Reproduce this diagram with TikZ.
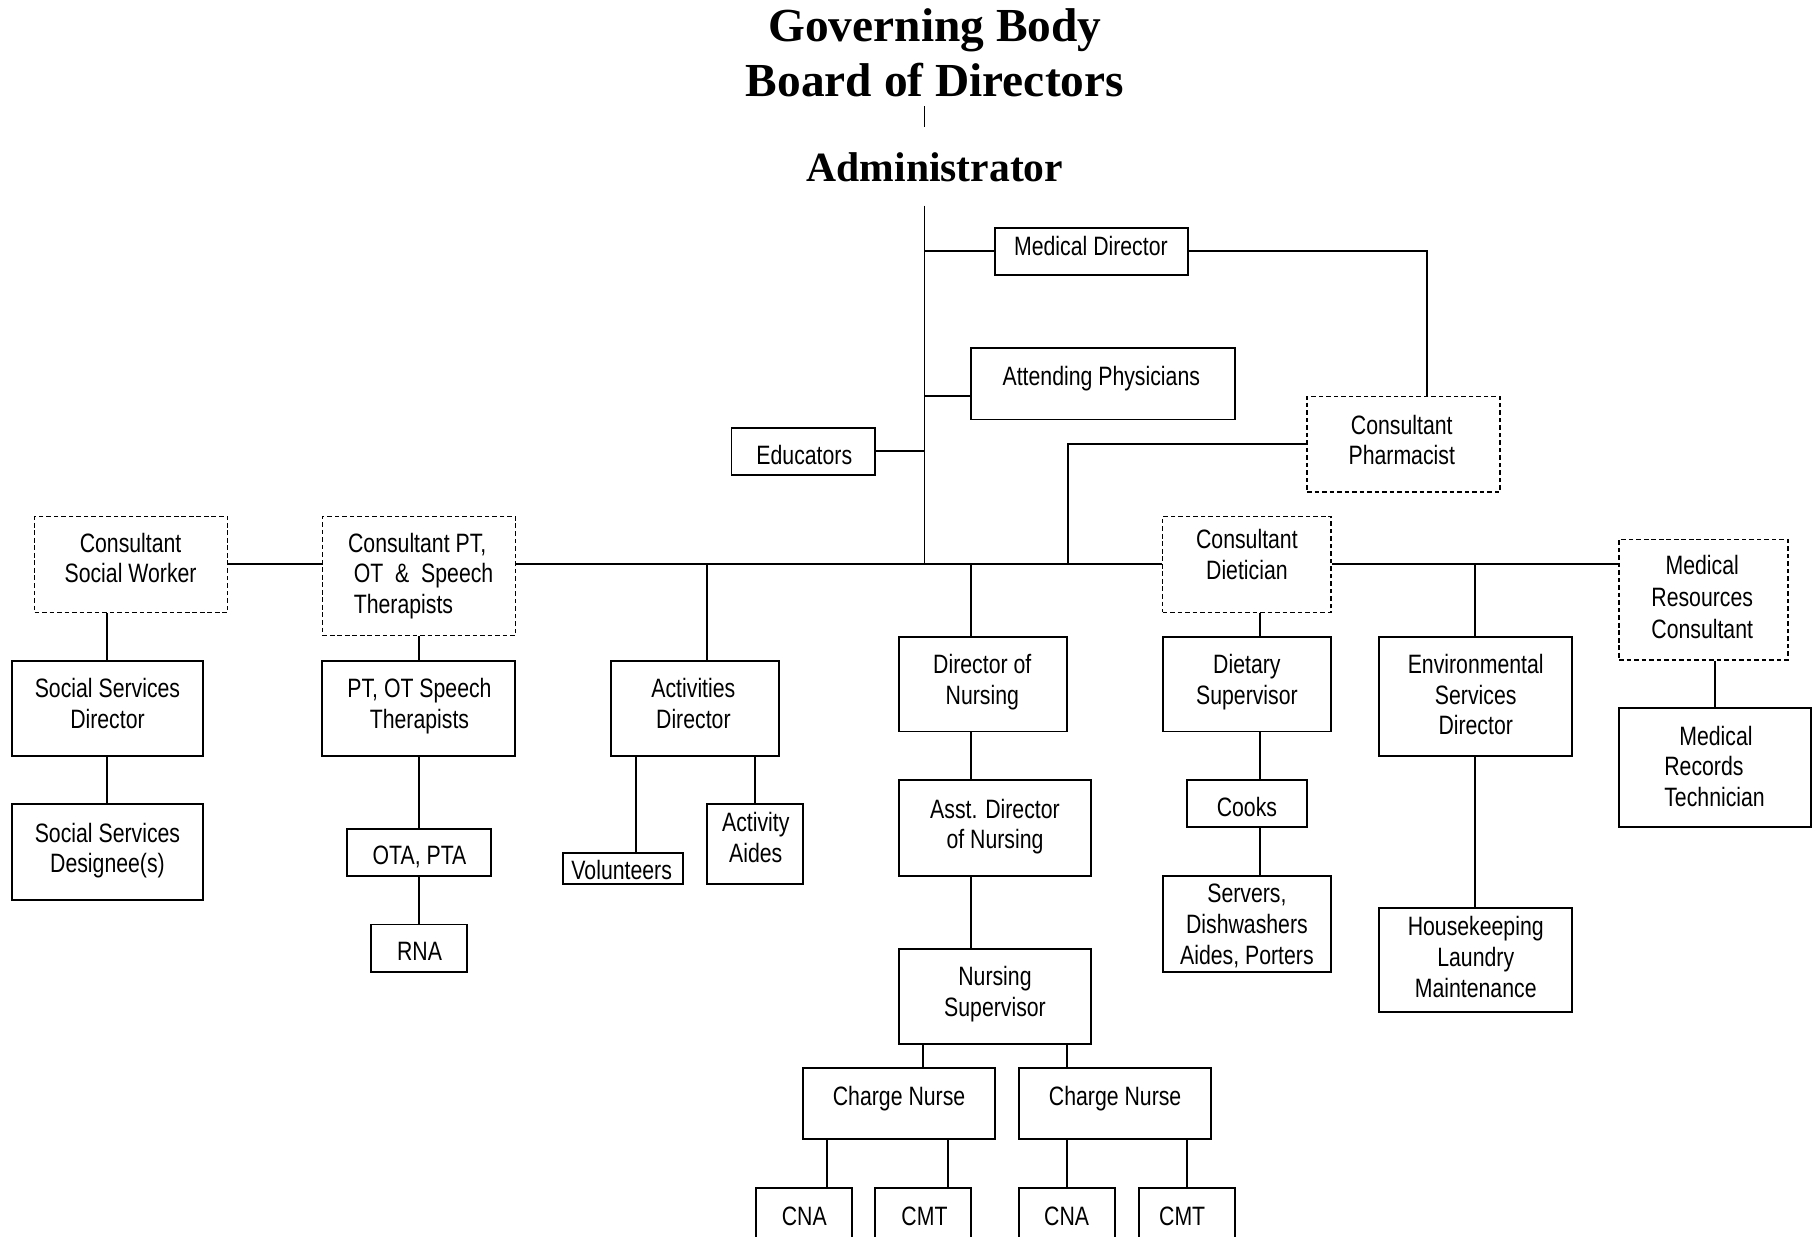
\documentclass[tikz,border=0pt]{standalone}
\usepackage{fontspec}
\setmainfont{Liberation Sans}[FakeStretch=0.8]
\newfontfamily\titlefont{Liberation Serif}
\usetikzlibrary{fit}
\begin{document}
\begin{tikzpicture}[x=1pt,y=-1pt,
  box/.style={draw, line width=1.7pt, inner sep=0pt},
  dbox/.style={box, line width=1.4pt, dash pattern=on 4pt off 2.5pt},
  txt/.style={font=\fontsize{23}{26.5}\selectfont, align=center, inner sep=0pt, anchor=north},
  ltxt/.style={txt, align=left, anchor=north west},
  conn/.style={line width=1.7pt},
  ttl/.style={font=\titlefont\bfseries\fontsize{41}{48}\selectfont, align=center, inner sep=0pt, anchor=north}]
\clip (0,0) rectangle (1568,1070);
\fill[white] (0,0) rectangle (1568,1070);

% titles
\node[ttl] (board) at (809,7) {Governing Body\\Board of Directors};
\node[ttl, font=\titlefont\bfseries\fontsize{36}{42}\selectfont] (admin) at (809,132) {Administrator};
\coordinate (bl1) at (800,92);
\coordinate (bl2) at (800,110);
\draw[line width=1pt] (bl1) -- (bl2);

% boxes
\node[box, fit={(861,197) (1028,238)}] (md) {};
\node[txt] (md-t) at (944,204) {Medical Director};
\node[box, fit={(840,301) (1069,363)}] (ap) {};
\node[txt] (ap-t) at (953,317) {Attending Physicians};
\node[box, fit={(633,370) (757,411)}] (ed) {};
\node[txt] (ed-t) at (696,385) {Educators};
\node[dbox, fit={(1131,343) (1298,426)}] (cph) {};
\node[txt] (cph-t) at (1213,359) {Consultant\\Pharmacist};
\node[dbox, fit={(30,447) (197,530)}] (csw) {};
\node[txt] (csw-t) at (113,461) {Consultant\\Social Worker};
\node[dbox, fit={(279,447) (446,550)}] (cpt) {};
\node[ltxt] (cpt-t) at (301,461) {Consultant PT,\\\hspace{5pt}OT~~\&~~Speech\\\hspace{5pt}Therapists};
\node[dbox, fit={(1006,447) (1152,530)}] (cd) {};
\node[txt] (cd-t) at (1079,458) {Consultant\\Dietician};
\node[dbox, fit={(1401,467) (1547,571)}] (mrc) {};
\node[txt, font=\fontsize{23}{28}\selectfont] (mrc-t) at (1473,480) {Medical\\Resources\\Consultant};

\node[box, fit={(10,572) (176,654)}] (ssd) {};
\node[txt] (ssd-t) at (93,587) {Social Services\\Director};
\node[box, fit={(10,696) (176,779)}] (ssg) {};
\node[txt] (ssg-t) at (93,712) {Social Services\\Designee(s)};
\node[box, fit={(279,572) (446,654)}] (ptt) {};
\node[txt] (ptt-t) at (363,587) {PT, OT Speech\\Therapists};
\node[box, fit={(300,717) (425,758)}] (ota) {};
\node[txt] (ota-t) at (363,732) {OTA, PTA};
\node[box, fit={(321,800) (404,841)}] (rna) {};
\node[txt] (rna-t) at (363,815) {RNA};
\node[box, fit={(529,572) (674,654)}] (acd) {};
\node[txt] (acd-t) at (600,587) {Activities\\Director};
\node[box, fit={(487,738) (591,765)}] (vol) {};
\node[txt] (vol-t) at (538,744) {Volunteers};
\node[box, fit={(612,696) (695,765)}] (aa) {};
\node[txt] (aa-t) at (654,703) {Activity\\Aides};
\node[box, fit={(778,551) (923,633)}] (don) {};
\node[txt] (don-t) at (850,566) {Director of\\Nursing};
\node[box, fit={(778,675) (944,758)}] (adn) {};
\node[txt] (adn-t) at (861,691) {Asst. Director\\of Nursing};
\node[box, fit={(778,821) (944,903)}] (ns) {};
\node[txt] (ns-t) at (861,836) {Nursing\\Supervisor};
\node[box, fit={(695,924) (861,986)}] (cn1) {};
\node[txt] (cn1-t) at (778,940) {Charge Nurse};
\node[box, fit={(882,924) (1048,986)}] (cn2) {};
\node[txt] (cn2-t) at (965,940) {Charge Nurse};
\node[box, fit={(654,1028) (737,1090)}] (cna1) {};
\node[txt] (cna1-t) at (696,1044) {CNA};
\node[box, fit={(757,1028) (840,1090)}] (cmt1) {};
\node[txt] (cmt1-t) at (800,1044) {CMT};
\node[box, fit={(882,1028) (965,1090)}] (cna2) {};
\node[txt] (cna2-t) at (923,1044) {CNA};
\node[box, fit={(986,1028) (1069,1090)}] (cmt2) {};
\node[txt] (cmt2-t) at (1023,1044) {CMT};
\node[box, fit={(1006,551) (1152,633)}] (ds) {};
\node[txt] (ds-t) at (1079,566) {Dietary\\Supervisor};
\node[box, fit={(1027,675) (1131,716)}] (ck) {};
\node[txt] (ck-t) at (1079,690) {Cooks};
\node[box, fit={(1006,758) (1152,841)}] (srv) {};
\node[txt] (srv-t) at (1079,765) {Servers,\\Dishwashers\\Aides, Porters};
\node[box, fit={(1193,551) (1360,654)}] (esd) {};
\node[txt] (esd-t) at (1277,566) {Environmental\\Services\\Director};
\node[box, fit={(1193,786) (1360,876)}] (hk) {};
\node[txt] (hk-t) at (1277,793) {Housekeeping\\Laundry\\Maintenance};
\node[box, fit={(1401,613) (1567,716)}] (mrt) {};
\node[ltxt] (mrt-t) at (1440,628) {\hspace{13pt}Medical\\Records\\Technician};

% connectors
\coordinate (busy) at (0,488);
\coordinate (tt) at (800,178);
\coordinate (apy) at (0,343);
\draw[conn] (tt) -- (tt |- busy);
\draw[conn] (tt |- md.west) -- (md.west);
\draw[conn] (tt |- apy) -- (ap.west |- apy);
\draw[conn] (ed.east) -- (tt |- ed.east);
\draw[conn] (md.east) -| ([xshift=20.5pt]cph.north);
\draw[conn] (cph.west) -| (don.east |- busy);

\draw[conn] (csw.east |- busy) -- (cpt.west |- busy);
\draw[conn] (cpt.east |- busy) -- (cd.west |- busy);
\draw[conn] (cd.east |- busy) -- (mrc.west |- busy);

\draw[conn] (ssd.north) -- (ssd.north |- csw.south);
\draw[conn] (ssd) -- (ssg);
\draw[conn] (cpt) -- (ptt);
\draw[conn] (ptt) -- (ota);
\draw[conn] (ota) -- (rna);

\draw[conn] ([xshift=10.5pt]acd.north) -- ([xshift=10.5pt]acd.north |- busy);
\draw[conn] ([xshift=11pt]vol.north) -- ([xshift=11pt]vol.north |- acd.south);
\draw[conn] (aa.north) -- (aa.north |- acd.south);

\draw[conn] ([xshift=-10.5pt]don.north) -- ([xshift=-10.5pt]don.north |- busy);
\draw[conn] ([xshift=-10.5pt]don.south) -- ([xshift=-10.5pt]don.south |- adn.north);
\draw[conn] ([xshift=-10.5pt]don.south |- adn.south) -- ([xshift=-10.5pt]don.south |- ns.north);
\draw[conn] ([xshift=21pt]cn1.north) -- ([xshift=21pt]cn1.north |- ns.south);
\draw[conn] ([xshift=-42pt]cn2.north) -- ([xshift=-42pt]cn2.north |- ns.south);
\draw[conn] ([xshift=20.5pt]cna1.north) -- ([xshift=20.5pt]cna1.north |- cn1.south);
\draw[conn] ([xshift=21.5pt]cmt1.north) -- ([xshift=21.5pt]cmt1.north |- cn1.south);
\draw[conn] (cna2.north) -- (cna2.north |- cn2.south);
\draw[conn] (cmt2.north) -- (cmt2.north |- cn2.south);

\draw[conn] ([xshift=11pt]ds.north) -- ([xshift=11pt]ds.north |- cd.south);
\draw[conn] ([xshift=11pt]ds.south) -- ([xshift=11pt]ds.south |- ck.north);
\draw[conn] ([xshift=11pt]ds.south |- ck.south) -- ([xshift=11pt]ds.south |- srv.north);

\draw[conn] (esd.north) -- (esd.north |- busy);
\draw[conn] (esd) -- (hk);
\draw[conn] (mrt.north) -- (mrt.north |- mrc.south);
\end{tikzpicture}
\end{document}
